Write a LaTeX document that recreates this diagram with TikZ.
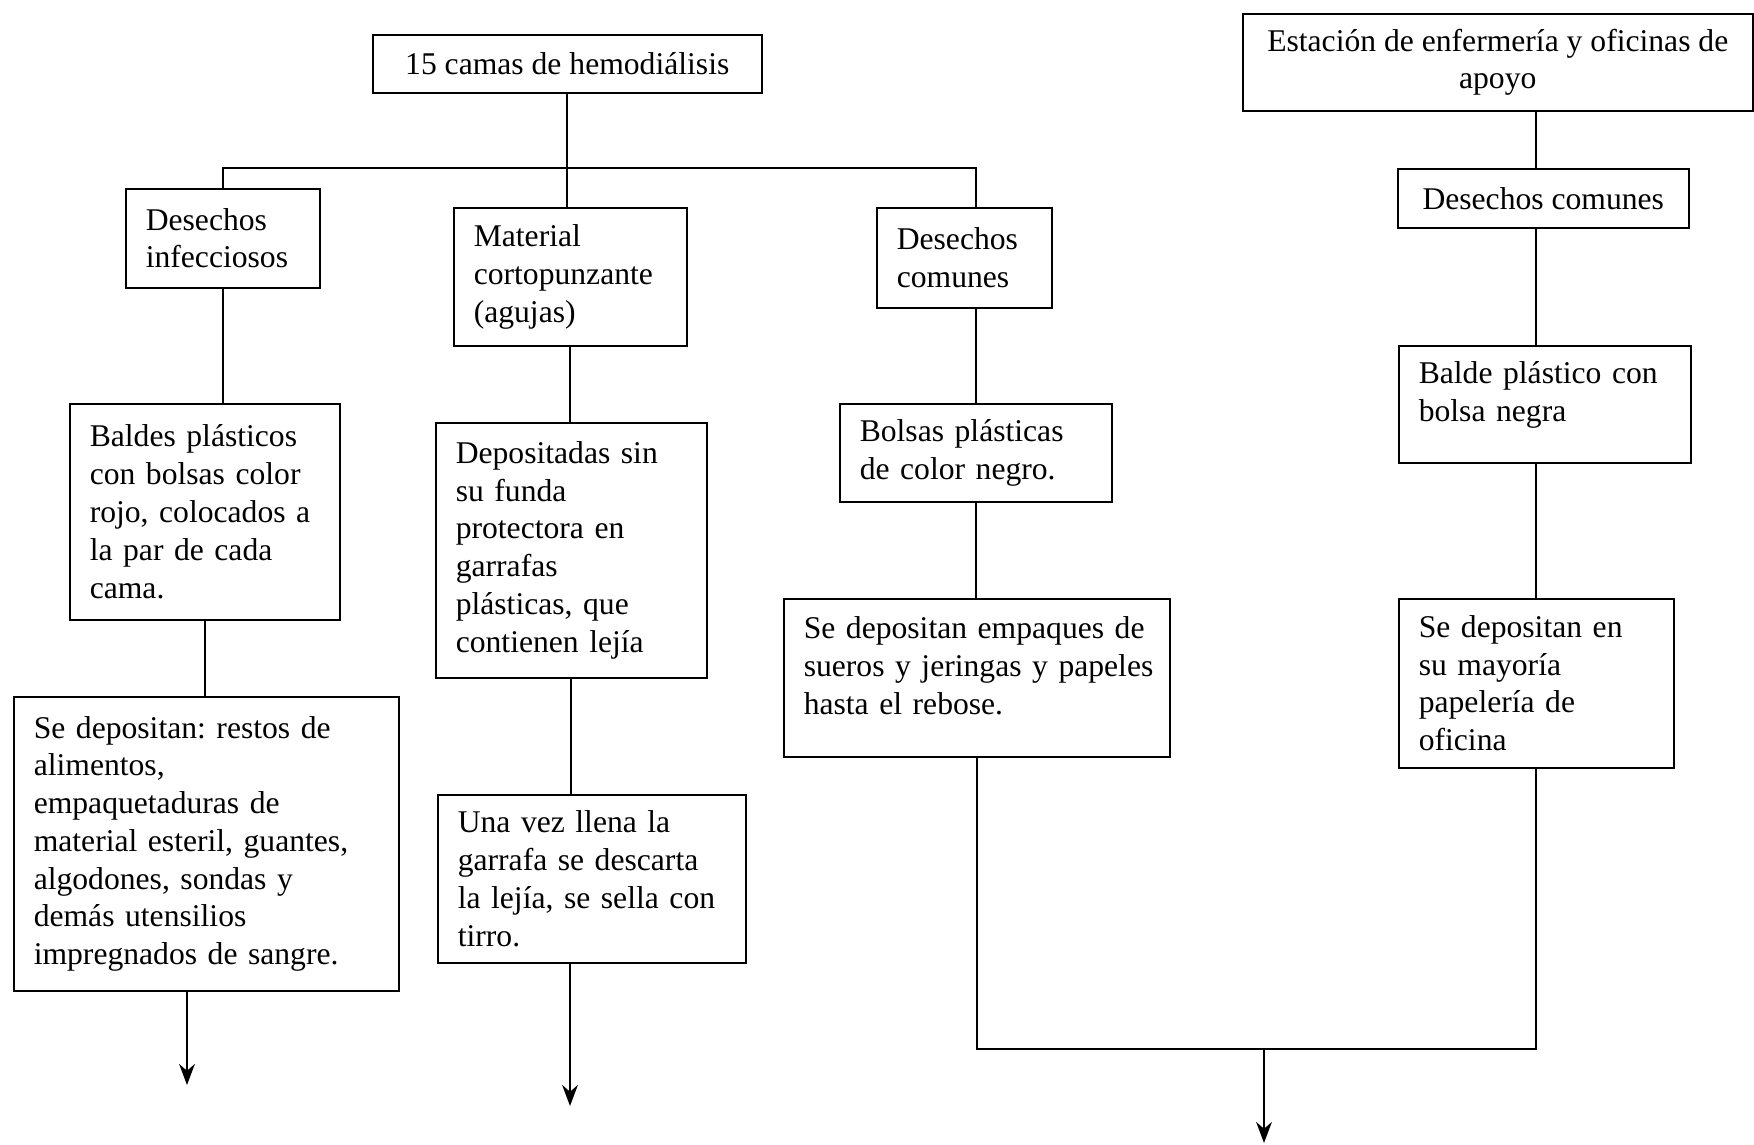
\documentclass[tikz,border=0pt]{standalone}
\usepackage{fontspec}
\setmainfont{Liberation Serif}
\usepackage{tikz}
\usetikzlibrary{arrows.meta}
\newcommand{\boxfont}{\fontsize{18}{21.5}\selectfont\frenchspacing\hyphenpenalty=10000\relax}
\tikzset{
  wastebox/.style = {shape=rectangle, draw, anchor=north west,
                     inner xsep=0.4cm, inner ysep=0.1cm, align=left,
                     font=\boxfont},
  wasteboxc/.style = {wastebox, align=center},
  arrow/.style = {->,>={Stealth[length=12pt, width=9pt]}}
}
\begin{document}
\begin{tikzpicture}[x=0.02cm, y=-0.02cm, line width=0.9pt]
            \useasboundingbox (0,0) rectangle (1754,1145);
            \node (top) [wasteboxc, minimum width=7.78cm, minimum height=1.16cm] at (372,34) {15 camas de hemodiálisis};
            \node (est) [wasteboxc, minimum width=10.2cm, minimum height=1.94cm] at (1242,13) {Estación de enfermería y oficinas de\\apoyo};
            \node (inf) [wastebox, text width=3.08cm, minimum height=1.98cm] at (125,188) {Desechos\\infecciosos};
            \node (mat) [wastebox, text width=3.86cm, minimum height=2.76cm] at (453,207) {Material\\cortopunzante\\(agujas)};
            \node (com) [wastebox, text width=2.7cm, minimum height=2.0cm] at (876,207) {Desechos\\comunes};
            \node (com2) [wasteboxc, minimum width=5.82cm, minimum height=1.18cm] at (1397,168) {Desechos comunes};
            \node (baldes) [wastebox, text width=4.6cm, minimum height=4.32cm] at (69,403) {Baldes plásticos\\con bolsas color\\rojo, colocados a\\la par de cada\\cama.};
            \node (dep) [wastebox, text width=4.62cm, minimum height=5.1cm] at (435,422) {Depositadas sin\\su funda\\protectora en\\garrafas\\plásticas, que\\contienen lejía};
            \node (bolsas) [wastebox, text width=4.64cm, minimum height=1.96cm] at (839,403) {Bolsas plásticas\\de color negro.};
            \node (balde) [wastebox, text width=5.04cm, minimum height=2.34cm] at (1398,345) {Balde plástico con\\bolsa negra\rule[-0.5cm]{0pt}{0pt}};
            \node (restos) [wastebox, text width=6.9cm, minimum height=5.88cm] at (13,696) {Se depositan: restos de\\alimentos,\\empaquetaduras de\\\mbox{material esteril, guantes,}\\algodones, sondas y\\demás utensilios\\\mbox{impregnados de sangre.}};
            \node (unavez) [wastebox, text width=5.36cm, minimum height=3.36cm] at (437,794) {Una vez llena la\\garrafa se descarta\\\mbox{la lejía, se sella con}\\tirro.};
            \node (empaques) [wastebox, text width=6.92cm, minimum height=3.16cm] at (783,598) {\mbox{Se depositan empaques de}\\\mbox{sueros y jeringas y papeles}\\hasta el rebose.\rule[-0.5cm]{0pt}{0pt}};
            \node (papel) [wastebox, text width=4.7cm, minimum height=3.38cm] at (1398,598) {Se depositan en\\su mayoría\\papelería de\\oficina};

            \coordinate (bus) at (568,168);
            \coordinate (endA) at (187,1085);
            \coordinate (endB) at (570,1106);
            \coordinate (merge) at (1264,1049);
            \coordinate (endC) at (1264,1143);

            \draw (top.south) -- (top.south |- mat.north);
            \draw (inf.north) |- (bus) -| (bolsas.north |- com.north);
            \draw (inf.south) -- (inf.south |- baldes.north);
            \draw (baldes.south) -- (baldes.south |- restos.north);
            \draw [arrow] (restos.south -| endA) -- (endA);
            \draw (mat.south) -- (mat.south |- dep.north);
            \draw (dep.south) -- (dep.south |- unavez.north);
            \draw [arrow] (unavez.south -| endB) -- (endB);
            \draw (bolsas.north |- com.south) -- (bolsas.north);
            \draw (bolsas.south) -- (bolsas.south |- empaques.north);
            \draw (est.south -| papel.north) -- (papel.north |- com2.north);
            \draw (papel.north |- com2.south) -- (papel.north |- balde.north);
            \draw (papel.north |- balde.south) -- (papel.north);
            \draw (empaques.south) |- (merge) -| (papel.south);
            \draw [arrow] (merge) -- (endC);
        \end{tikzpicture}
\end{document}
